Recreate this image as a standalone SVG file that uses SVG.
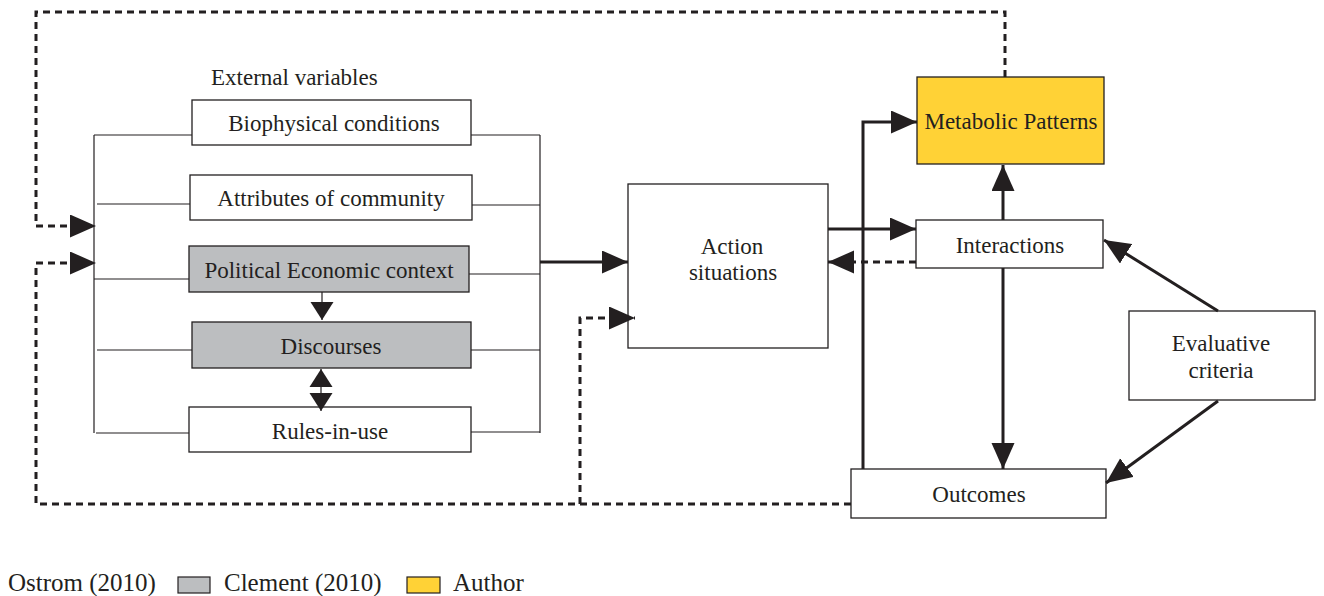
<svg xmlns="http://www.w3.org/2000/svg" width="1324" height="596" viewBox="0 0 1324 596">
  <style>
    .box { fill: #ffffff; stroke: #231f20; stroke-width: 1.3; }
    .grey { fill: #bcbec0; }
    .yellow { fill: #ffd236; }
    .lbl { font-family: "Liberation Serif", "Times New Roman", serif; font-size: 23px; fill: #231f20; text-anchor: middle; }
    .legend { font-family: "Liberation Serif", "Times New Roman", serif; font-size: 25px; fill: #231f20; }
    .thin { fill: none; stroke: #231f20; stroke-width: 1.2; }
    .solid { fill: none; stroke: #231f20; stroke-width: 3; }
    .dash { fill: none; stroke: #231f20; stroke-width: 3; stroke-dasharray: 7 5; }
  </style>
  <defs>
    <marker id="head" markerUnits="userSpaceOnUse" markerWidth="27" markerHeight="24" refX="26" refY="11.5" orient="auto">
      <path d="M0,0 L26,11.5 L0,23 z" fill="#231f20"/>
    </marker>
    <marker id="headS" markerUnits="userSpaceOnUse" markerWidth="20" markerHeight="24" refX="18" refY="11.5" orient="auto">
      <path d="M0,0 L18,11.5 L0,23 z" fill="#231f20"/>
    </marker>
    <marker id="headSStart" markerUnits="userSpaceOnUse" markerWidth="20" markerHeight="24" refX="0" refY="11.5" orient="auto">
      <path d="M18,0 L0,11.5 L18,23 z" fill="#231f20"/>
    </marker>
  </defs>

  <rect width="1324" height="596" fill="#ffffff"/>

  <!-- external variables bracket -->
  <g id="bracket">
    <text class="legend" x="211" y="85" style="font-size:23px">External variables</text>
    <path class="thin" d="M94,135 V433"/>
    <path class="thin" d="M94,135 H192 M97,204 H190 M94,279 H189 M97,350 H192 M96,433 H189"/>
    <path class="thin" d="M540,135 V433"/>
    <path class="thin" d="M471,135 H540 M472,205 H540 M469,274 H540 M471,350 H540 M471,432 H540"/>
  </g>

  <g id="biophysical">
    <rect class="box" x="192" y="100" width="279" height="45"/>
    <text class="lbl" x="334" y="131">Biophysical conditions</text>
  </g>
  <g id="attributes">
    <rect class="box" x="190" y="175" width="282" height="45"/>
    <text class="lbl" x="331" y="206">Attributes of community</text>
  </g>
  <g id="political">
    <rect class="box grey" x="189" y="246" width="280" height="46"/>
    <text class="lbl" x="329" y="278">Political Economic context</text>
  </g>
  <g id="discourses">
    <rect class="box grey" x="192" y="322" width="279" height="46"/>
    <text class="lbl" x="331" y="354">Discourses</text>
  </g>
  <g id="rules">
    <rect class="box" x="189" y="407" width="282" height="45"/>
    <text class="lbl" x="330" y="439">Rules-in-use</text>
  </g>
  <g id="action">
    <rect class="box" x="628" y="184" width="200" height="164"/>
    <text class="lbl" x="732" y="254">Action</text>
    <text class="lbl" x="733" y="280">situations</text>
  </g>
  <g id="metabolic">
    <rect class="box yellow" x="917" y="77" width="187" height="87"/>
    <text class="lbl" x="1011" y="129">Metabolic Patterns</text>
  </g>
  <g id="interactions">
    <rect class="box" x="916" y="220" width="187" height="48"/>
    <text class="lbl" x="1010" y="253">Interactions</text>
  </g>
  <g id="evaluative">
    <rect class="box" x="1129" y="311" width="186" height="89"/>
    <text class="lbl" x="1221" y="351">Evaluative</text>
    <text class="lbl" x="1221" y="378">criteria</text>
  </g>
  <g id="outcomes">
    <rect class="box" x="851" y="469" width="255" height="49"/>
    <text class="lbl" x="979" y="502">Outcomes</text>
  </g>

  <g id="connectors">
    <!-- feedback loops -->
    <path class="dash" d="M1005,77 V12 H36 V226 H96" marker-end="url(#head)"/>
    <path class="dash" d="M851,504 H36 V263 H96" marker-end="url(#head)"/>
    <path class="dash" d="M580,504 V318 H635" marker-end="url(#head)"/>
    <path class="dash" d="M916,262 H828" marker-end="url(#head)"/>
    <!-- main flows -->
    <path class="solid" d="M540,262 H628" marker-end="url(#head)"/>
    <path class="solid" d="M828,229 H916" marker-end="url(#head)"/>
    <path class="solid" d="M863,469 V122 H917" marker-end="url(#head)"/>
    <path class="solid" d="M1003,220 V165" marker-end="url(#head)"/>
    <path class="solid" d="M1003,268 V469" marker-end="url(#head)"/>
    <path class="solid" d="M1218,311 L1104,240" marker-end="url(#head)"/>
    <path class="solid" d="M1218,401 L1106,483" marker-end="url(#head)"/>
    <!-- links between external variables -->
    <path class="thin" d="M322,292 V320" marker-end="url(#headS)"/>
    <path class="thin" d="M321,369 V411" marker-start="url(#headSStart)" marker-end="url(#headS)"/>
  </g>

  <g id="legend">
    <text class="legend" x="8" y="591">Ostrom (2010)</text>
    <rect x="178" y="577" width="32" height="16" fill="#bcbec0" stroke="#231f20" stroke-width="1.2"/>
    <text class="legend" x="224" y="591">Clement (2010)</text>
    <rect x="407" y="577" width="33" height="16" fill="#ffd236" stroke="#231f20" stroke-width="1.2"/>
    <text class="legend" x="453" y="591">Author</text>
  </g>
</svg>
